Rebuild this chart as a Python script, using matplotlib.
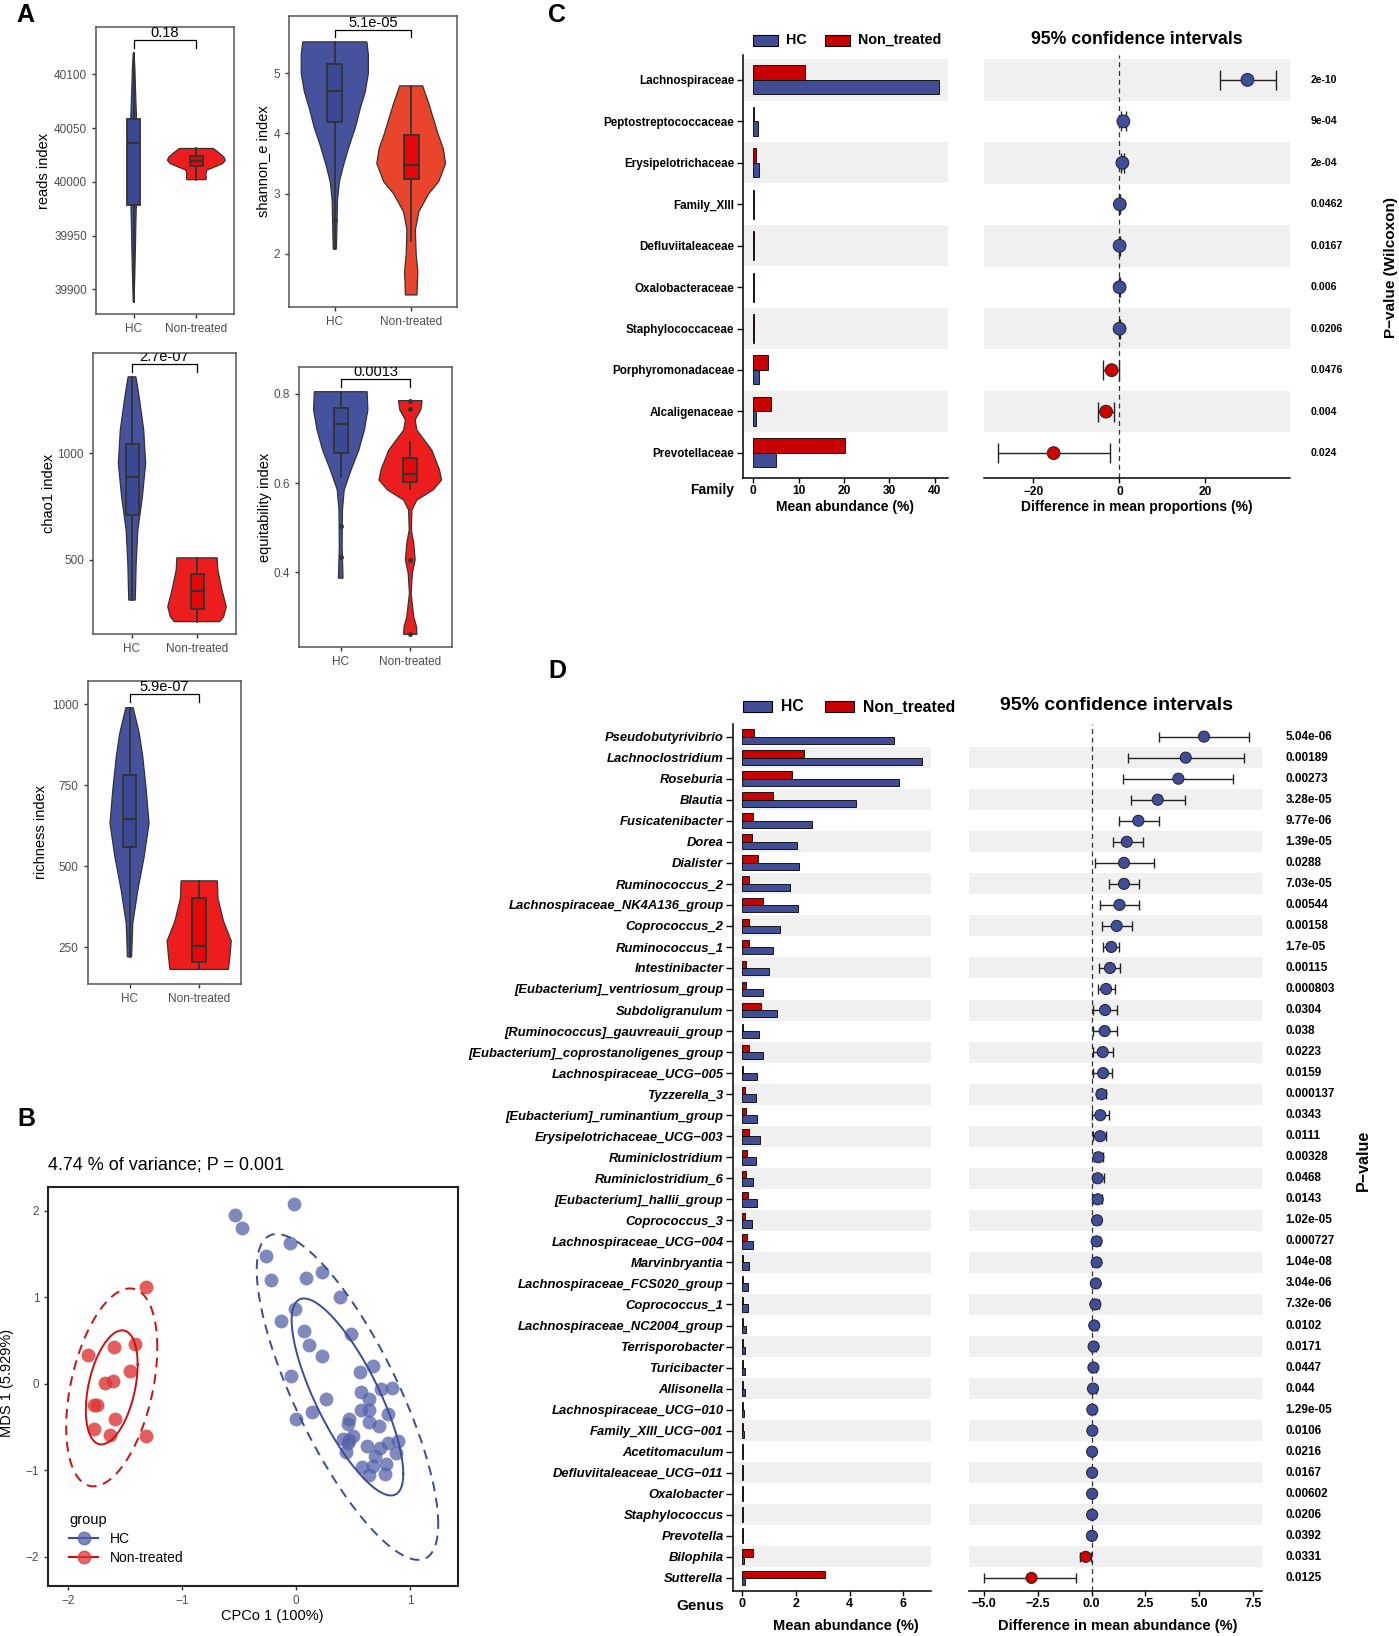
from __future__ import annotations

import numpy as np
import matplotlib

matplotlib.use("Agg")

import matplotlib.pyplot as plt
from matplotlib.colors import to_rgba
from matplotlib.lines import Line2D
from matplotlib.patches import Rectangle
from matplotlib.transforms import blended_transform_factory

plt.rcParams["font.family"] = ["Liberation Sans", "DejaVu Sans"]

W, H = 1399, 1636

HC_VIOLIN = "#46529D"
HC_BOXFILL = "#3B4896"
NT_VIOLIN = "#EE1D1D"
NT_ORANGE = "#E8452C"
NT_BOXFILL = "#E50808"
EDGE = "#333333"
AXIS_GREY = "#4D4D4D"
BAR_BLUE = "#404D95"
BAR_RED = "#C80000"
DOT_BLUE = "#3F4D9A"
DOT_RED = "#D00000"
STRIPE = "#F0F0F0"

GROUPS = ["HC", "Non-treated"]

# ---- panel A: violin outlines as (value, half width), read top to bottom
READS_HC_SHAPE = [(40120, 0.006), (40105, 0.02), (40085, 0.03), (40060, 0.045), (40035, 0.05),
                  (40010, 0.05), (39985, 0.045), (39960, 0.035), (39935, 0.027), (39910, 0.017),
                  (39888, 0.006)]
READS_NT_SHAPE = [(40031, 0.27), (40027, 0.36), (40023, 0.44), (40020, 0.46), (40017, 0.42),
                  (40014, 0.30), (40011, 0.17), (40007, 0.15), (40004, 0.16), (40002, 0.15)]
SHANNON_HC_SHAPE = [(5.52, 0.42), (5.3, 0.44), (5.0, 0.44), (4.7, 0.40), (4.4, 0.33), (4.1, 0.27),
                    (3.8, 0.19), (3.5, 0.12), (3.2, 0.06), (2.9, 0.035), (2.6, 0.03), (2.3, 0.025),
                    (2.08, 0.02)]
SHANNON_NT_SHAPE = [(4.79, 0.15), (4.5, 0.23), (4.0, 0.35), (3.75, 0.42), (3.5, 0.45), (3.2, 0.36),
                    (3.0, 0.23), (2.7, 0.10), (2.4, 0.055), (2.0, 0.065), (1.7, 0.087), (1.5, 0.08),
                    (1.32, 0.076)]
CHAO1_HC_SHAPE = [(1359, 0.06), (1265, 0.11), (1109, 0.18), (953, 0.21), (797, 0.16), (640, 0.09),
                  (484, 0.064), (312, 0.05)]
CHAO1_NT_SHAPE = [(510, 0.31), (453, 0.32), (359, 0.385), (281, 0.45), (234, 0.41), (211, 0.35)]
EQUIT_HC_SHAPE = [(0.805, 0.38), (0.764, 0.39), (0.719, 0.34), (0.674, 0.26), (0.63, 0.15),
                  (0.585, 0.05), (0.54, 0.025), (0.457, 0.02), (0.387, 0.033)]
EQUIT_NT_SHAPE = [(0.785, 0.17), (0.764, 0.15), (0.742, 0.07), (0.719, 0.095), (0.674, 0.31),
                  (0.63, 0.42), (0.607, 0.45), (0.585, 0.33), (0.562, 0.095), (0.54, 0.024),
                  (0.495, 0.015), (0.465, 0.05), (0.428, 0.07), (0.398, 0.03), (0.353, 0.012),
                  (0.30, 0.05), (0.278, 0.09), (0.261, 0.095)]
RICH_HC_SHAPE = [(989, 0.052), (910, 0.14), (838, 0.19), (735, 0.24), (632, 0.28), (529, 0.21),
                 (427, 0.12), (324, 0.047), (221, 0.03)]
RICH_NT_SHAPE = [(455, 0.26), (400, 0.27), (330, 0.35), (270, 0.46), (221, 0.44), (182, 0.42)]

# box stats: lower whisker, q1, median, q3, upper whisker
READS_HC_BOX = [39888, 39978, 40036, 40058, 40120]
READS_NT_BOX = [40002, 40015, 40019, 40024, 40031]
SHANNON_HC_BOX = [2.08, 4.19, 4.71, 5.16, 5.52]
SHANNON_NT_BOX = [2.22, 3.24, 3.47, 3.97, 4.79]
CHAO1_HC_BOX = [312, 711, 890, 1044, 1359]
CHAO1_NT_BOX = [211, 269, 353, 436, 510]
EQUIT_HC_BOX = [0.614, 0.668, 0.733, 0.768, 0.805]
EQUIT_NT_BOX = [0.586, 0.603, 0.62, 0.657, 0.693]
RICH_HC_BOX = [221, 560, 646, 781, 989]
RICH_NT_BOX = [182, 206, 255, 403, 455]
SHANNON_HC_OUTLIERS = [2.56]
EQUIT_HC_OUTLIERS = [0.504, 0.434]
EQUIT_NT_OUTLIERS = [0.785, 0.766, 0.428, 0.261]

# significance brackets: bracket level, tick end, label
READS_SIG = (40132, 40124, "0.18")
SHANNON_SIG = (5.725, 5.60, "5.1e-05")
CHAO1_SIG = (1417, 1380, "2.7e-07")
EQUIT_SIG = (0.834, 0.815, "0.0013")
RICH_SIG = (1031, 1005, "5.9e-07")

# ---- panel B: PCoA points
B_HC_X = [-0.535, -0.47, -0.016, -0.26, -0.055, -0.216, 0.085, 0.23, 0.383, -0.01, -0.13, 0.07,
          0.114, 0.23, 0.485, -0.047, 0.26, 0.0, 0.14, 0.56, 0.675, 0.75, 0.84, 0.57, 0.64, 0.57,
          0.64, 0.81, 0.465, 0.46, 0.64, 0.725, 0.41, 0.5, 0.465, 0.895, 0.81, 0.44, 0.62, 0.74,
          0.875, 0.69, 0.58, 0.79, 0.64, 0.78, 0.68, 0.455]
B_HC_Y = [1.95, 1.80, 2.08, 1.48, 1.63, 1.20, 1.22, 1.29, 1.0, 0.87, 0.73, 0.615, 0.45, 0.325,
          0.577, 0.09, -0.176, -0.41, -0.33, 0.14, 0.2, -0.06, -0.05, -0.1, -0.18, -0.30, -0.30,
          -0.35, -0.41, -0.47, -0.44, -0.485, -0.64, -0.61, -0.65, -0.66, -0.68, -0.79, -0.72,
          -0.74, -0.80, -0.84, -0.96, -0.93, -1.06, -1.04, -0.95, -0.69]
B_NT_X = [-1.32, -1.825, -1.60, -1.41, -1.46, -1.68, -1.605, -1.77, -1.745, -1.585, -1.775,
          -1.635, -1.32]
B_NT_Y = [1.12, 0.33, 0.42, 0.46, 0.15, 0.005, 0.03, -0.245, -0.25, -0.41, -0.52, -0.59, -0.60]
# ellipses (HC, Non-treated): centre, inner/outer half spans, correlation
ELLIPSE_CENTERS = [(0.452, -0.153), (-1.618, -0.042)]
ELLIPSE_INNER = [(0.49, 1.14), (0.2275, 0.66)]
ELLIPSE_OUTER = [(0.797, 1.885), (0.40, 1.145)]
ELLIPSE_RHO = [-0.78, 0.40]

# ---- panel C: families
C_FAMILIES = ["Lachnospiraceae", "Peptostreptococcaceae", "Erysipelotrichaceae", "Family_XIII",
              "Defluviitaleaceae", "Oxalobacteraceae", "Staphylococcaceae", "Porphyromonadaceae",
              "Alcaligenaceae", "Prevotellaceae"]
C_HC = [41.0, 1.1, 1.2, 0.15, 0.1, 0.1, 0.1, 1.3, 0.6, 4.9]
C_NT = [11.4, 0.1, 0.5, 0.05, 0.05, 0.05, 0.05, 3.3, 3.8, 20.2]
C_DIFF = [29.8, 0.93, 0.7, 0.1, 0.05, 0.05, 0.05, -1.8, -3.1, -15.3]
C_LO = [23.3, 0.33, 0.28, 0.0, 0.0, 0.0, 0.0, -3.7, -5.0, -28.3]
C_HI = [36.4, 1.5, 1.13, 0.2, 0.1, 0.1, 0.1, 0.0, -1.2, -2.2]
C_PVALUES = ["2e-10", "9e-04", "2e-04", "0.0462", "0.0167", "0.006", "0.0206", "0.0476",
             "0.004", "0.024"]

# ---- panel D: genera
D_GENERA = ["Pseudobutyrivibrio", "Lachnoclostridium", "Roseburia", "Blautia", "Fusicatenibacter",
            "Dorea", "Dialister", "Ruminococcus_2", "Lachnospiraceae_NK4A136_group",
            "Coprococcus_2", "Ruminococcus_1", "Intestinibacter", "[Eubacterium]_ventriosum_group",
            "Subdoligranulum", "[Ruminococcus]_gauvreauii_group",
            "[Eubacterium]_coprostanoligenes_group", "Lachnospiraceae_UCG\u2212005", "Tyzzerella_3",
            "[Eubacterium]_ruminantium_group", "Erysipelotrichaceae_UCG\u2212003",
            "Ruminiclostridium", "Ruminiclostridium_6", "[Eubacterium]_hallii_group",
            "Coprococcus_3", "Lachnospiraceae_UCG\u2212004", "Marvinbryantia",
            "Lachnospiraceae_FCS020_group", "Coprococcus_1", "Lachnospiraceae_NC2004_group",
            "Terrisporobacter", "Turicibacter", "Allisonella", "Lachnospiraceae_UCG\u2212010",
            "Family_XIII_UCG\u2212001", "Acetitomaculum", "Defluviitaleaceae_UCG\u2212011",
            "Oxalobacter", "Staphylococcus", "Prevotella", "Bilophila", "Sutterella"]
D_HC = [5.66, 6.69, 5.85, 4.24, 2.61, 2.03, 2.10, 1.77, 2.08, 1.41, 1.15, 1.00, 0.77, 1.28, 0.62,
        0.76, 0.54, 0.51, 0.54, 0.66, 0.50, 0.41, 0.54, 0.35, 0.39, 0.26, 0.22, 0.21, 0.13, 0.11,
        0.11, 0.11, 0.05, 0.05, 0.03, 0.03, 0.03, 0.03, 0.03, 0.07, 0.10]
D_NT = [0.44, 2.30, 1.84, 1.13, 0.41, 0.36, 0.57, 0.25, 0.76, 0.25, 0.25, 0.14, 0.12, 0.69, 0.03,
        0.25, 0.03, 0.10, 0.12, 0.26, 0.16, 0.14, 0.22, 0.10, 0.16, 0.02, 0.02, 0.02, 0.01, 0.03,
        0.03, 0.04, 0.02, 0.02, 0.01, 0.01, 0.02, 0.01, 0.01, 0.39, 3.10]
D_DIFF = [5.22, 4.37, 4.03, 3.07, 2.17, 1.63, 1.50, 1.50, 1.29, 1.16, 0.91, 0.85, 0.67, 0.62, 0.60,
          0.51, 0.53, 0.45, 0.40, 0.39, 0.31, 0.28, 0.28, 0.25, 0.23, 0.23, 0.19, 0.17, 0.12, 0.09,
          0.08, 0.06, 0.03, 0.03, 0.02, 0.02, 0.02, 0.02, 0.01, -0.28, -2.80]
D_LO = [3.15, 1.67, 1.47, 1.83, 1.27, 0.98, 0.17, 0.82, 0.40, 0.47, 0.51, 0.36, 0.29, 0.05, 0.05,
        0.05, 0.08, 0.26, 0.03, 0.05, 0.11, 0.05, 0.05, 0.08, 0.08, 0.11, 0.05, 0.02, 0.0, -0.02,
        -0.03, -0.08, -0.08, -0.05, -0.03, -0.03, -0.02, -0.02, -0.02, -0.53, -4.99]
D_HI = [7.32, 7.07, 6.57, 4.34, 3.12, 2.37, 2.90, 2.22, 2.20, 1.86, 1.29, 1.33, 1.07, 1.16, 1.16,
        1.00, 0.96, 0.67, 0.81, 0.68, 0.54, 0.57, 0.50, 0.39, 0.39, 0.36, 0.31, 0.33, 0.23, 0.20,
        0.19, 0.20, 0.14, 0.10, 0.07, 0.07, 0.06, 0.06, 0.04, -0.05, -0.71]
D_PVALUES = ["5.04e-06", "0.00189", "0.00273", "3.28e-05", "9.77e-06", "1.39e-05", "0.0288",
             "7.03e-05", "0.00544", "0.00158", "1.7e-05", "0.00115", "0.000803", "0.0304", "0.038",
             "0.0223", "0.0159", "0.000137", "0.0343", "0.0111", "0.00328", "0.0468", "0.0143",
             "1.02e-05", "0.000727", "1.04e-08", "3.04e-06", "7.32e-06", "0.0102", "0.0171",
             "0.0447", "0.044", "1.29e-05", "0.0106", "0.0216", "0.0167", "0.00602", "0.0206",
             "0.0392", "0.0331", "0.0125"]


def px_axes(fig, x0, y0, x1, y1):
    return fig.add_axes([x0 / W, 1 - y1 / H, (x1 - x0) / W, (y1 - y0) / H])


def fig_text(fig, x, y, s, **kw):
    kw.setdefault("ha", "center")
    kw.setdefault("va", "center")
    fig.text(x / W, 1 - y / H, s, **kw)


def fig_rect(fig, x0, y0, x1, y1, color):
    fig.add_artist(Rectangle((x0 / W, 1 - y1 / H), (x1 - x0) / W, (y1 - y0) / H,
                             transform=fig.transFigure, facecolor=color, edgecolor="black", lw=0.8))


def draw_violin(ax, pos, shape, color):
    ys = [p[0] for p in shape]
    hw = [p[1] for p in shape]
    xs = [pos - w for w in hw] + [pos + w for w in reversed(hw)]
    ax.fill(xs, ys + ys[::-1], facecolor=color, edgecolor=EDGE, lw=0.9, zorder=1)


def draw_box(ax, pos, stats, fill, outliers):
    lo, q1, med, q3, hi = stats
    ax.bxp([{"whislo": lo, "q1": q1, "med": med, "q3": q3, "whishi": hi, "fliers": outliers}],
           positions=[pos], widths=0.2, patch_artist=True, showcaps=False,
           boxprops=dict(facecolor=fill, edgecolor=EDGE, lw=1.3),
           whiskerprops=dict(color=EDGE, lw=1.3), medianprops=dict(color=EDGE, lw=1.6),
           flierprops=dict(marker="o", ms=2.5, mfc=EDGE, mec=EDGE), manage_ticks=False)


def violin_panel(fig, box, ylim, yticks, ylabel, label_x, shapes, boxes, nt_color, sig, outliers=((), ())):
    x0, y0, x1, y1 = box
    ax = px_axes(fig, x0, y0, x1, y1)
    draw_violin(ax, 1, shapes[0], HC_VIOLIN)
    draw_violin(ax, 2, shapes[1], nt_color)
    draw_box(ax, 1, boxes[0], HC_BOXFILL, list(outliers[0]))
    draw_box(ax, 2, boxes[1], NT_BOXFILL, list(outliers[1]))
    level, tick_end, label = sig
    ax.plot([1, 1, 2, 2], [tick_end, level, level, tick_end], color="black", lw=0.9, zorder=3)
    ax.text(1.5, level, label, ha="center", va="bottom", fontsize=10.5, clip_on=True)
    ax.set_xlim(0.4, 2.6)
    ax.set_ylim(*ylim)
    ax.set_xticks([1, 2], GROUPS)
    ax.set_yticks(yticks, [str(t) for t in yticks])
    ax.tick_params(labelsize=8.5, labelcolor=AXIS_GREY, length=3, color=EDGE, width=1)
    for sp in ax.spines.values():
        sp.set_color("#555555")
        sp.set_linewidth(1.1)
    fig_text(fig, label_x, (y0 + y1) / 2, ylabel, rotation=90, fontsize=10.5)


def shade_rows(ax, n, first_shaded):
    for r in range(1, n + 1):
        if (r % 2) == (first_shaded % 2):
            ax.axhspan(r - 0.5, r + 0.5, color=STRIPE, lw=0, zorder=0)


def bar_side(ax, names, hc, nt, first_shaded, label_size, italic, xlim, xticks, xlabels, tick_size, tick_len):
    rows = np.arange(1, len(names) + 1)
    shade_rows(ax, len(names), first_shaded)
    ax.barh(rows - 0.175, nt, height=0.35, color=BAR_RED, edgecolor="black", lw=0.6, zorder=2)
    ax.barh(rows + 0.175, hc, height=0.35, color=BAR_BLUE, edgecolor="black", lw=0.6, zorder=2)
    ax.set_ylim(len(names) + 0.6, 0.4)
    ax.set_xlim(*xlim)
    ax.set_yticks(rows, names, fontsize=label_size, fontweight="bold",
                  fontstyle="italic" if italic else "normal")
    ax.set_xticks(xticks, xlabels, fontsize=tick_size, fontweight="bold")
    ax.tick_params(axis="y", length=tick_len, width=1, pad=2)
    ax.tick_params(axis="x", length=3.5, width=1, pad=2)
    ax.spines[["top", "right"]].set_visible(False)
    for sp in ("left", "bottom"):
        ax.spines[sp].set_linewidth(1.1)


def ci_side(ax, diff, lo, hi, pvals, first_shaded, xlim, xticks, xlabels, tick_size, ms, cap, p_x, p_size):
    n = len(diff)
    rows = np.arange(1, n + 1)
    shade_rows(ax, n, first_shaded)
    ax.axvline(0, color="#333333", lw=0.9, ls=(0, (4, 3)), zorder=1)
    d = np.array(diff)
    err = [d - np.array(lo), np.array(hi) - d]
    ax.errorbar(d, rows, xerr=err, fmt="none", ecolor="#222222", elinewidth=1.0, capsize=cap,
                capthick=1.0, zorder=3)
    colors = [DOT_BLUE if v >= 0 else DOT_RED for v in diff]
    ax.scatter(d, rows, s=ms ** 2, c=colors, edgecolors="#222222", linewidths=0.7, zorder=4)
    ax.set_ylim(n + 0.6, 0.4)
    ax.set_xlim(*xlim)
    ax.set_yticks([])
    ax.set_xticks(xticks, xlabels, fontsize=tick_size, fontweight="bold")
    ax.tick_params(axis="x", length=3.5, width=1, pad=2)
    for sp in ("top", "right", "left"):
        ax.spines[sp].set_visible(False)
    ax.spines["bottom"].set_linewidth(1.1)
    tr = blended_transform_factory(ax.transAxes, ax.transData)
    for r, p in zip(rows, pvals):
        ax.text(p_x, r, p, transform=tr, ha="left", va="center", fontsize=p_size,
                fontweight="bold", clip_on=False)


def ellipse_xy(center, span, rho):
    t = np.linspace(0, 2 * np.pi, 200)
    x = center[0] + span[0] * np.cos(t)
    y = center[1] + span[1] * (rho * np.cos(t) + np.sqrt(1 - rho ** 2) * np.sin(t))
    return x, y


def main():
    fig = plt.figure(figsize=(W / 100, H / 100), dpi=100)

    # ---------------- A
    violin_panel(fig, (96, 27, 234, 314), (39877, 40144), [39900, 39950, 40000, 40050, 40100],
                 "reads index", 44, (READS_HC_SHAPE, READS_NT_SHAPE), (READS_HC_BOX, READS_NT_BOX),
                 NT_VIOLIN, READS_SIG)
    violin_panel(fig, (289, 16, 457, 307), (1.12, 5.95), [2, 3, 4, 5], "shannon_e index", 263,
                 (SHANNON_HC_SHAPE, SHANNON_NT_SHAPE), (SHANNON_HC_BOX, SHANNON_NT_BOX), NT_ORANGE,
                 SHANNON_SIG, (SHANNON_HC_OUTLIERS, ()))
    violin_panel(fig, (93, 352.7, 236, 634), (153, 1472), [500, 1000], "chao1 index", 49,
                 (CHAO1_HC_SHAPE, CHAO1_NT_SHAPE), (CHAO1_HC_BOX, CHAO1_NT_BOX), NT_VIOLIN, CHAO1_SIG)
    violin_panel(fig, (299, 366.7, 452, 647.3), (0.232, 0.861), [0.4, 0.6, 0.8], "equitability index",
                 265, (EQUIT_HC_SHAPE, EQUIT_NT_SHAPE), (EQUIT_HC_BOX, EQUIT_NT_BOX), NT_VIOLIN,
                 EQUIT_SIG, (EQUIT_HC_OUTLIERS, EQUIT_NT_OUTLIERS))
    violin_panel(fig, (87.7, 680.7, 241, 984), (137, 1072), [250, 500, 750, 1000], "richness index",
                 40.7, (RICH_HC_SHAPE, RICH_NT_SHAPE), (RICH_HC_BOX, RICH_NT_BOX), NT_VIOLIN, RICH_SIG)

    # ---------------- B
    ax = px_axes(fig, 48.3, 1186.7, 457.7, 1586)
    point_colors = ["#5562A8", "#DE3535"]
    line_colors = ["#3C4A99", "#CC1010"]
    ax.scatter(B_HC_X, B_HC_Y, s=100, color=point_colors[0], alpha=0.75, lw=0, zorder=2)
    ax.scatter(B_NT_X, B_NT_Y, s=100, color=point_colors[1], alpha=0.8, lw=0, zorder=2)
    for i in range(2):
        x, y = ellipse_xy(ELLIPSE_CENTERS[i], ELLIPSE_INNER[i], ELLIPSE_RHO[i])
        ax.plot(x, y, color=line_colors[i], lw=1.4, zorder=3)
        x, y = ellipse_xy(ELLIPSE_CENTERS[i], ELLIPSE_OUTER[i], ELLIPSE_RHO[i])
        ax.plot(x, y, color=line_colors[i], lw=1.4, ls=(0, (5, 3.5)), zorder=3)
    ax.set_xlim(-2.175, 1.42)
    ax.set_ylim(-2.34, 2.28)
    ax.set_xticks([-2, -1, 0, 1])
    ax.set_yticks([-2, -1, 0, 1, 2])
    ax.tick_params(labelsize=8.5, labelcolor=AXIS_GREY, length=3, color=EDGE, width=1)
    for sp in ax.spines.values():
        sp.set_color("#222222")
        sp.set_linewidth(1.5)
    handles = [Line2D([], [], color=line_colors[i], lw=1.5, marker="o", ms=9,
                      mfc=to_rgba(point_colors[i], 0.75), mec=to_rgba(point_colors[i], 0.75))
               for i in range(2)]
    ax.legend(handles, GROUPS, title="group", loc="lower left", frameon=False, fontsize=10,
              title_fontsize=10.5, alignment="left", handlelength=2.1, borderaxespad=1.1,
              labelspacing=0.35, handletextpad=0.8)
    fig_text(fig, 47.7, 1165, "4.74 % of variance; P = 0.001", ha="left", fontsize=13)
    fig_text(fig, 7.5, 1383, "MDS 1 (5.929%)", rotation=90, fontsize=10.5)
    fig_text(fig, 272, 1616, "CPCo 1 (100%)", fontsize=10.5)

    # ---------------- C
    ax = px_axes(fig, 743.3, 55, 948, 477.7)
    bar_side(ax, C_FAMILIES, C_HC, C_NT, 1, 8.4, False, (-2.2, 42.9), [0, 10, 20, 30, 40],
             ["0", "10", "20", "30", "40"], 8.6, 4.5)
    ax = px_axes(fig, 984, 55, 1290, 478)
    ci_side(ax, C_DIFF, C_LO, C_HI, C_PVALUES, 1, (-31.5, 39.7), [-20, 0, 20],
            ["\u221220", "0", "20"], 8.6, 9.2, 7, 1.069, 7.6)
    fig_rect(fig, 753, 35, 778, 45.5, BAR_BLUE)
    fig_text(fig, 785.7, 40, "HC", ha="left", fontsize=10.3, fontweight="bold")
    fig_rect(fig, 825, 35, 850, 45.5, BAR_RED)
    fig_text(fig, 857.7, 40, "Non_treated", ha="left", fontsize=10.3, fontweight="bold")
    fig_text(fig, 1136.7, 39, "95% confidence intervals", fontsize=12.7, fontweight="bold")
    fig_text(fig, 734, 490, "Family", ha="right", fontsize=10, fontweight="bold")
    fig_text(fig, 845.5, 507, "Mean abundance (%)", fontsize=10, fontweight="bold")
    fig_text(fig, 1137, 507, "Difference in mean proportions (%)", fontsize=10, fontweight="bold")
    fig_text(fig, 1391, 267, "P\u2212value (Wilcoxon)", rotation=90, fontsize=11, fontweight="bold")

    # ---------------- D
    ax = px_axes(fig, 733.3, 724, 930.5, 1590.5)
    bar_side(ax, D_GENERA, D_HC, D_NT, 2, 9.4, True, (-0.34, 7.02), [0, 2, 4, 6],
             ["0", "2", "4", "6"], 9, 5)
    ax = px_axes(fig, 969.3, 724, 1262.3, 1590.5)
    ci_side(ax, D_DIFF, D_LO, D_HI, D_PVALUES, 2, (-5.69, 7.93), [-5, -2.5, 0, 2.5, 5, 7.5],
            ["\u22125.0", "\u22122.5", "0.0", "2.5", "5.0", "7.5"], 9, 8, 3.6, 1.08, 8.5)
    fig_rect(fig, 742.7, 700.7, 772.3, 712.3, BAR_BLUE)
    fig_text(fig, 780.7, 706.5, "HC", ha="left", fontsize=11.3, fontweight="bold")
    fig_rect(fig, 825, 700.7, 854.3, 712.3, BAR_RED)
    fig_text(fig, 862.7, 706.5, "Non_treated", ha="left", fontsize=11.3, fontweight="bold")
    fig_text(fig, 1116.7, 705, "95% confidence intervals", fontsize=14, fontweight="bold")
    fig_text(fig, 724, 1606, "Genus", ha="right", fontsize=11, fontweight="bold")
    fig_text(fig, 846, 1626, "Mean abundance (%)", fontsize=10.5, fontweight="bold")
    fig_text(fig, 1118, 1626, "Difference in mean abundance (%)", fontsize=10.5, fontweight="bold")
    fig_text(fig, 1363, 1160, "P\u2212value", rotation=90, fontsize=11.5, fontweight="bold")

    # panel letters
    for letter, (x, y) in {"A": (25, 15), "B": (26, 1119), "C": (557, 15), "D": (557, 671)}.items():
        fig_text(fig, x, y, letter, fontsize=18, fontweight="bold")

    fig.savefig("out.png", dpi=100)
    plt.close(fig)


if __name__ == "__main__":
    main()
